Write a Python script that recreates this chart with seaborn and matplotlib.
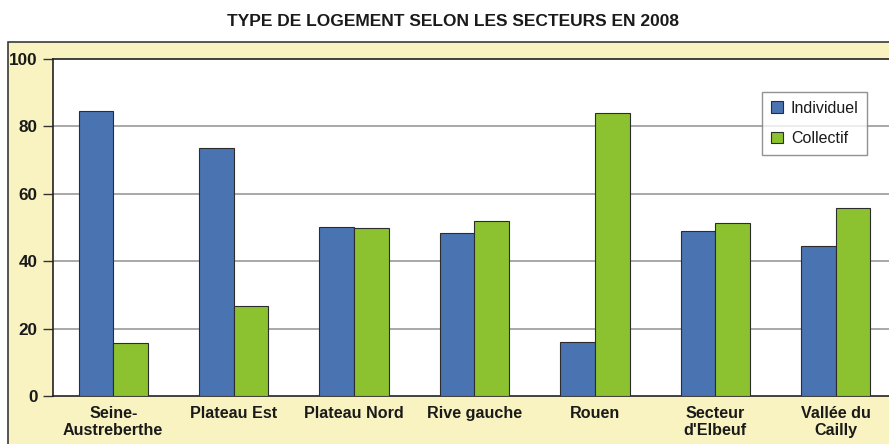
import matplotlib
matplotlib.use("Agg")
import matplotlib.pyplot as plt
from matplotlib.patches import Rectangle
import seaborn as sns
import pandas as pd

categories = ["Seine-\nAustreberthe", "Plateau Est", "Plateau Nord", "Rive gauche",
              "Rouen", "Secteur\nd'Elbeuf", "Vallée du\nCailly"]
individuel = [84.6, 73.6, 50.1, 48.4, 16.0, 49.0, 44.5]
collectif = [15.7, 26.7, 49.9, 51.9, 84.0, 51.3, 55.8]
series = ["Individuel", "Collectif"]
yticks = [0, 20, 40, 60, 80, 100]
title = "TYPE DE LOGEMENT SELON LES SECTEURS EN 2008"

df = pd.DataFrame({
    "secteur": categories * 2,
    "type": [series[0]] * len(categories) + [series[1]] * len(categories),
    "valeur": individuel + collectif,
})

sns.set_style("white")
plt.rcParams["font.family"] = ["Liberation Sans", "DejaVu Sans"]

fig = plt.figure(figsize=(8.89, 4.44), dpi=100)
fig.patch.set_facecolor("white")
frame = Rectangle((8 / 889, -0.01), 1.0, 1 - 42 / 444 + 0.01, transform=fig.transFigure,
                  facecolor="#f8f3c0", edgecolor="#3a3a3a", linewidth=1.2, zorder=-10)
fig.patches.append(frame)

ax = fig.add_axes([53 / 889, 1 - 396 / 444, (896 - 53) / 889, (396 - 59) / 444])
ax.set_zorder(5)
ax.set_facecolor("white")
palette = {"Individuel": "#4a73b1", "Collectif": "#8cc22f"}
sns.barplot(data=df, x="secteur", y="valeur", hue="type", order=categories,
            hue_order=series, palette=palette, width=0.575, gap=0,
            edgecolor="#2c2c2c", linewidth=0.8, saturation=1, ax=ax, zorder=3)

ax.set_xlim(-0.5, 6.5)
ax.set_ylim(0, 100)
ax.set_yticks(yticks)
ax.set_yticklabels([str(v) for v in yticks], fontsize=12.3, fontweight="bold", color="#1a1a1a")
ax.set_xticks(range(len(categories)))
ax.set_xticklabels(categories, fontsize=11.6, fontweight="bold", color="#1a1a1a", linespacing=1.15)
ax.tick_params(axis="x", which="major", length=0, pad=7)
ax.set_xticks([i - 0.5 for i in range(len(categories) + 1)], minor=True)
ax.tick_params(axis="x", which="minor", length=5, color="#555555", width=1)
ax.tick_params(axis="y", length=7, width=1, color="#333333", pad=4, left=True)
ax.set_xlabel("")
ax.set_ylabel("")
for v in yticks[1:-1]:
    ax.axhline(v, color="#9a9a9a", linewidth=1.2, zorder=1)
for s in ["left", "bottom", "top"]:
    ax.spines[s].set_visible(True)
    ax.spines[s].set_color("#222222")
    ax.spines[s].set_linewidth(1.2)
ax.spines["right"].set_visible(False)

leg = ax.legend(loc="upper left", bbox_to_anchor=((762 - 53) / 843, 1 - (92 - 59) / 337),
                borderaxespad=0, frameon=True, fancybox=False, fontsize=11.5,
                handlelength=0.75, handleheight=0.75, handletextpad=0.5,
                labelspacing=0.95, borderpad=0.55, title=None)
leg.get_frame().set_edgecolor("#777777")
leg.get_frame().set_linewidth(1.0)
for t in leg.get_texts():
    t.set_color("#1a1a1a")

fig.text(0.51, 1 - 22 / 444, title, ha="center", va="center", fontsize=12.5, fontweight="bold",
         family=["Liberation Sans", "DejaVu Sans"], color="#1a1a1a")

fig.savefig("out.png", dpi=100)
